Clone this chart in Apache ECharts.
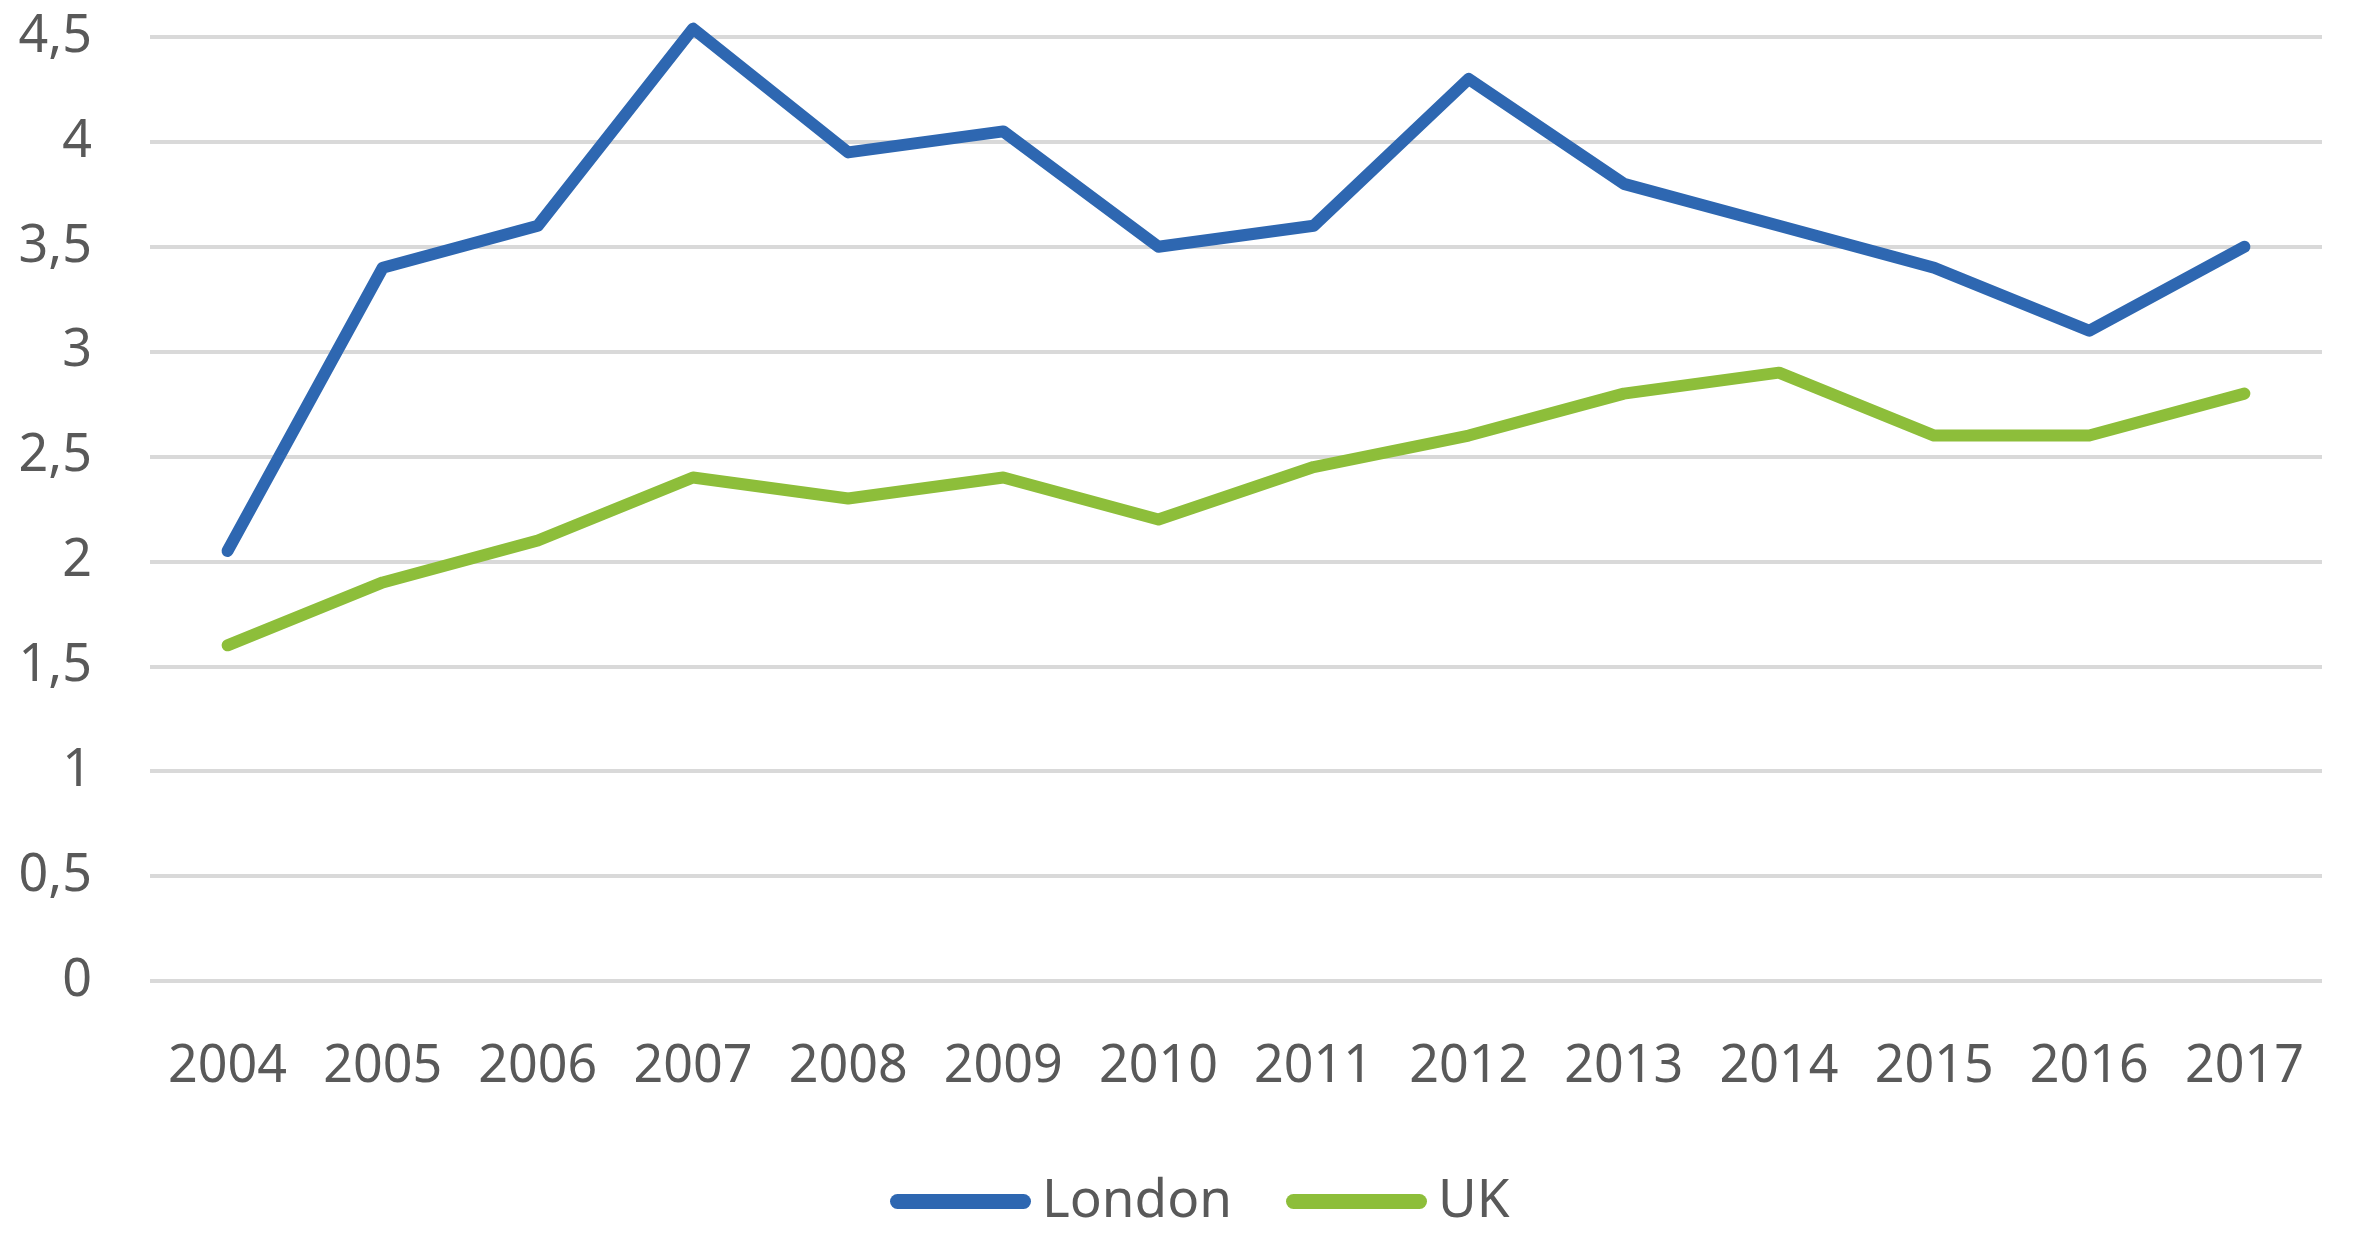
<!DOCTYPE html>
<html>
	<head>
		<meta charset="utf-8">
		<title></title>
		<script type="text/javascript" src="https://cdn.jsdelivr.net/npm/echarts@6/dist/echarts.min.js"></script>
		<style>
			html, body { margin: 0; padding: 0; background: #fff; }
		</style>
	</head>
	<body>
		<div id="main" style="width: 2357px;height:1239px;"></div>
	</body>
	<script type="text/javascript">
	        // data
	        var years = ['2004','2005','2006','2007','2008','2009','2010','2011','2012','2013','2014','2015','2016','2017'];
	        var london = [2.05, 3.4, 3.6, 4.54, 3.95, 4.05, 3.5, 3.6, 4.3, 3.8, 3.6, 3.4, 3.1, 3.5];
	        var uk = [1.6, 1.9, 2.1, 2.4, 2.3, 2.4, 2.2, 2.45, 2.6, 2.8, 2.9, 2.6, 2.6, 2.8];

	        var myChart = echarts.init(document.getElementById('main'));
	        // pill shaped legend icon
	        var pill = 'path://M7.5,0 L133.5,0 A7.5,7.5 0 0 1 133.5,15 L7.5,15 A7.5,7.5 0 0 1 7.5,0 Z';

	        myChart.setOption({
                animation: false,
                textStyle: { fontFamily: 'Noto Sans' },
                legend: {
                    left: 885,
                    top: 1170,
                    itemWidth: 141,
                    itemHeight: 15,
                    itemGap: 54,
                    textStyle: { fontSize: 53, color: '#595959', padding: [0, 0, 0, 6] },
                    data: [
                        { name: 'London', icon: pill },
                        { name: 'UK', icon: pill }
                    ]
                },
                grid: {
                    left: 150,
                    right: 35,
                    top: 37,
                    bottom: 258
                },
                xAxis: {
                    type: 'category',
                    boundaryGap: true,
                    data: years,
                    axisLine: { show: false },
                    axisTick: { show: false },
                    axisLabel: { fontSize: 52, color: '#595959', margin: 60 }
                },
                yAxis: {
                    type: 'value',
                    min: 0,
                    max: 4.5,
                    interval: 0.5,
                    axisLabel: {
                        fontSize: 52,
                        color: '#595959',
                        margin: 58,
                        formatter: function (v) { return String(v).replace('.', ','); }
                    },
                    splitLine: { lineStyle: { color: '#D9D9D9', width: 4 } }
                },
                series: [
                    {
                        name: 'London',
                        type: 'line',
                        data: london,
                        symbol: 'none',
                        clip: false,
                        color: '#2E67B1',
                        lineStyle: { width: 12, cap: 'round', join: 'round' }
                    },
                    {
                        name: 'UK',
                        type: 'line',
                        data: uk,
                        symbol: 'none',
                        clip: false,
                        color: '#8DBE3A',
                        lineStyle: { width: 12, cap: 'round', join: 'round' }
                    }
                ]
            });
	    </script>
</html>
